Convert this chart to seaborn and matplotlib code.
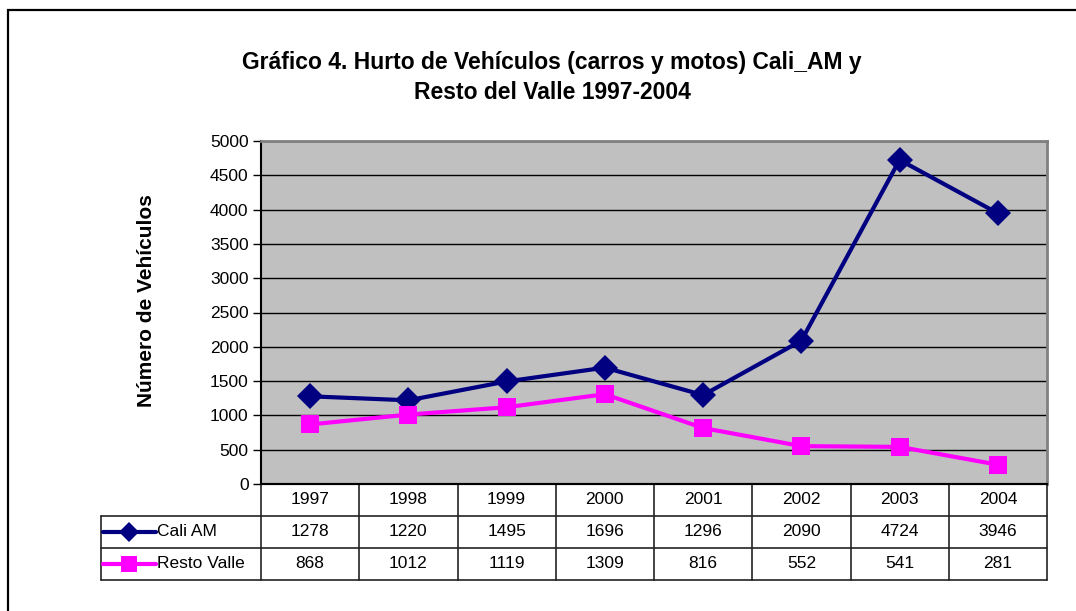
import matplotlib
matplotlib.use("Agg")
import matplotlib.pyplot as plt
import seaborn as sns
import pandas as pd
from matplotlib.patches import Rectangle
from matplotlib.lines import Line2D

years = ["1997", "1998", "1999", "2000", "2001", "2002", "2003", "2004"]
cali_am = [1278, 1220, 1495, 1696, 1296, 2090, 4724, 3946]
resto_valle = [868, 1012, 1119, 1309, 816, 552, 541, 281]
series_names = ["Cali AM", "Resto Valle"]
series_colors = ["#000080", "#FF00FF"]
series_markers = ["D", "s"]
title = "Gráfico 4. Hurto de Vehículos (carros y motos) Cali_AM y\nResto del Valle 1997-2004"
ylabel = "Número de Vehículos"

df = pd.DataFrame({"year": years * 2,
                   "value": cali_am + resto_valle,
                   "serie": [series_names[0]] * len(years) + [series_names[1]] * len(years)})

sns.set_style("white")
plt.rcParams["font.family"] = ["Liberation Sans", "DejaVu Sans"]
plt.rcParams["text.color"] = "black"
plt.rcParams["axes.labelcolor"] = "black"
plt.rcParams["ytick.color"] = "black"

W, H = 1076, 611
fig = plt.figure(figsize=(W / 100, H / 100), dpi=100)
fs = 12.5

# plot area in pixels
px_l, px_r, px_t, px_b = 261, 1047, 141, 484
ax = fig.add_axes([px_l / W, 1 - px_b / H, (px_r - px_l) / W, (px_b - px_t) / H])
ax.set_facecolor("#C0C0C0")

sns.lineplot(data=df, x="year", y="value", hue="serie", style="serie",
             palette=series_colors, markers=series_markers, dashes=False,
             linewidth=3, markersize=13, markeredgewidth=0, sort=False,
             legend=False, ax=ax)

ax.set_xlim(-0.5, len(years) - 0.5)
ax.set_ylim(0, 5000)
ax.set_yticks(range(0, 5001, 500))
ax.yaxis.grid(True, color="black", linewidth=1.0)
ax.set_axisbelow(True)
ax.set_xticks([])
ax.set_xlabel("")
ax.set_ylabel(ylabel, fontsize=15, fontweight="bold")
ax.yaxis.set_label_coords(-0.133, 0.535)
ax.tick_params(axis="y", left=True, length=6, width=1, color="black",
               labelsize=fs, pad=3)
for side in ["top", "right"]:
    ax.spines[side].set_color("#808080")
    ax.spines[side].set_linewidth(2)
ax.spines["left"].set_color("black")
ax.spines["left"].set_linewidth(1.5)
ax.spines["bottom"].set_color("black")
ax.spines["bottom"].set_linewidth(1.5)

# data table below the plot
tb_l, tb_b = 101, 580
label_w = (px_l - tb_l) / ((px_r - px_l) / len(years))
axt = fig.add_axes([tb_l / W, 1 - tb_b / H, (px_r - tb_l) / W, (tb_b - px_b) / H])
axt.set_xlim(-0.5 - label_w, len(years) - 0.5)
axt.set_ylim(3, 0)
axt.axis("off")
n = len(years)
lc = "#222222"
for i in range(n + 1):
    axt.plot([i - 0.5, i - 0.5], [0, 3], color=lc, lw=1.2, clip_on=False)
axt.plot([-0.5 - label_w, -0.5 - label_w], [1, 3], color=lc, lw=1.2, clip_on=False)
axt.plot([-0.5, n - 0.5], [0, 0], color="black", lw=1.5, clip_on=False)
for r in [1, 2, 3]:
    axt.plot([-0.5 - label_w, n - 0.5], [r, r], color=lc, lw=1.2, clip_on=False)

for i, y in enumerate(years):
    axt.text(i, 0.5, y, ha="center", va="center", fontsize=fs)
for r, vals in enumerate([cali_am, resto_valle], start=1):
    for i, v in enumerate(vals):
        axt.text(i, r + 0.5, str(v), ha="center", va="center", fontsize=fs)
    x0 = -0.5 - label_w + 0.02
    x1 = x0 + 0.54
    axt.add_line(Line2D([x0, (x0 + x1) / 2, x1], [r + 0.5] * 3,
                        color=series_colors[r - 1], lw=3,
                        marker=series_markers[r - 1], markevery=[1],
                        markersize=10 if r == 1 else 11, markeredgewidth=0,
                        clip_on=False))
    axt.text(x1 + 0.01, r + 0.5, series_names[r - 1], ha="left", va="center",
             fontsize=fs)

fig.text(552 / W, 1 - 77.5 / H, title, ha="center", va="center", fontsize=16.5,
         fontweight="bold", linespacing=1.42)

# outer chart border (runs off the right and bottom edges)
fig.patches.append(Rectangle((8 / W, -0.1), 1.2, 1 - 10 / H + 0.1,
                             transform=fig.transFigure, fill=False,
                             edgecolor="black", linewidth=1.6))

fig.savefig("out.png", dpi=100)
